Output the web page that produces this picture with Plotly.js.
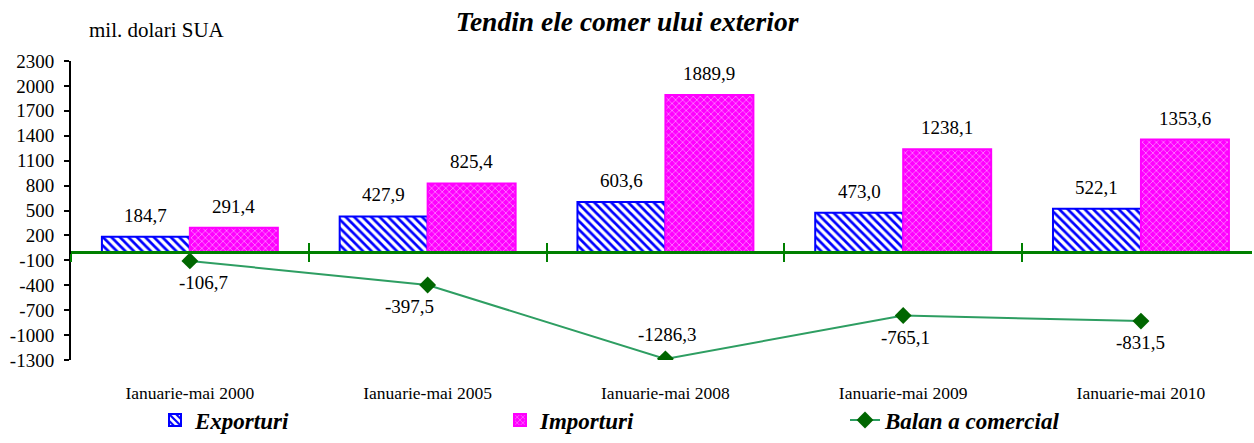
<!DOCTYPE html>
<html><head><meta charset="utf-8">
<script src="https://cdn.plot.ly/plotly-3.0.1.min.js"></script>
<style>html,body{margin:0;padding:0;background:#fff}</style>
</head><body><div id="chart" style="width:1254px;height:443px"></div>
<script>
const categories = ["Ianuarie-mai 2000", "Ianuarie-mai 2005", "Ianuarie-mai 2008", "Ianuarie-mai 2009", "Ianuarie-mai 2010"];
const exporturi = [184.7, 427.9, 603.6, 473.0, 522.1];
const importuri = [291.4, 825.4, 1889.9, 1238.1, 1353.6];
const balanta = [-106.7, -397.5, -1286.3, -765.1, -831.5];
const yTickValues = [-1300, -1000, -700, -400, -100, 200, 500, 800, 1100, 1400, 1700, 2000, 2300];
const seriesNames = ["Exporturi", "Importuri", "Balan a comercial"];
const chartTitle = "Tendin ele comer ului exterior";
const unitLabel = "mil. dolari SUA";

// style-only settings for the balance labels
const balLabelAbove = [false, false, true, false, false];
const balLabelXShift = [14, -18, 2, 2, 0];

const FONT = "Liberation Serif, Times New Roman, serif";
const fmt = v => v.toFixed(1).replace('.', ',');
const yRange = [-1300, 2300];
const xRange = [-0.5, 4.467];
const zeroPos = (0 - yRange[0]) / (yRange[1] - yRange[0]);
const boundaries = categories.map((c, i) => i - 0.5);

const traces = [
  {type: 'bar', name: seriesNames[0], x: categories, y: exporturi,
   marker: {color: 'white', line: {color: '#0000FF', width: 2},
            pattern: {shape: '\\', fgcolor: '#0000FF', bgcolor: 'white', size: 6, solidity: 0.45}},
   hoverinfo: 'skip'},
  {type: 'bar', name: seriesNames[1], x: categories, y: importuri,
   marker: {color: '#FF00FF', line: {color: '#FF00FF', width: 2},
            pattern: {shape: 'x', fgcolor: '#FFC8FF', bgcolor: '#FF00FF', size: 5, solidity: 0.2}},
   hoverinfo: 'skip'},
  {type: 'scatter', mode: 'lines+markers', name: seriesNames[2], x: categories, y: balanta,
   line: {color: '#2E9E62', width: 2},
   marker: {symbol: 'diamond', color: '#006600', size: 13},
   hoverinfo: 'skip'},
  // invisible helpers so the zero-line axes (x2, x3) are rendered
  {type: 'scatter', mode: 'markers', x: boundaries, y: boundaries.map(() => 0), xaxis: 'x2', yaxis: 'y',
   marker: {opacity: 0}, showlegend: false, hoverinfo: 'skip'},
  {type: 'scatter', mode: 'markers', x: boundaries, y: boundaries.map(() => 0), xaxis: 'x3', yaxis: 'y',
   marker: {opacity: 0}, showlegend: false, hoverinfo: 'skip'}
];

const annotations = [];
const labelFont = {family: FONT, size: 19, color: '#000'};
categories.forEach((c, i) => {
  annotations.push({x: c, y: exporturi[i], xref: 'x', yref: 'y', text: fmt(exporturi[i]),
    showarrow: false, xshift: -44, yanchor: 'bottom', yshift: 9, font: labelFont});
  annotations.push({x: c, y: importuri[i], xref: 'x', yref: 'y', text: fmt(importuri[i]),
    showarrow: false, xshift: 44, yanchor: 'bottom', yshift: 9, font: labelFont});
  annotations.push({x: c, y: balanta[i], xref: 'x', yref: 'y', text: fmt(balanta[i]),
    showarrow: false, xshift: balLabelXShift[i],
    yanchor: balLabelAbove[i] ? 'bottom' : 'top', yshift: balLabelAbove[i] ? 12 : -9, font: labelFont});
});
annotations.push({xref: 'paper', yref: 'paper',
  x: (87 - 71) / 1181, xanchor: 'left', y: 1 + (61 - 30) / 299, yanchor: 'middle',
  text: unitLabel, showarrow: false, font: {family: FONT, size: 21, color: '#000'}});

const zeroAxisBase = {overlaying: 'x', anchor: 'free', position: zeroPos, type: 'linear',
  range: xRange, showline: true, linecolor: '#008000', linewidth: 2.5,
  tickmode: 'array', tickvals: boundaries, ticklen: 8, tickwidth: 2, tickcolor: '#008000',
  showticklabels: false, showgrid: false, zeroline: false, fixedrange: true};

const layout = {
  width: 1254, height: 443,
  margin: {l: 71, r: 2, t: 61, b: 83, autoexpand: false},
  paper_bgcolor: 'white', plot_bgcolor: 'white',
  title: {text: '<b><i>' + chartTitle + '</i></b>', x: 0.5, xref: 'container', y: 1 - 21 / 443, yanchor: 'middle',
          font: {family: FONT, size: 27.5, color: '#000'}},
  barmode: 'group', bargap: 0.26, bargroupgap: 0,
  showlegend: true,
  legend: {orientation: 'h', x: (155 - 71) / 1181, xanchor: 'left', y: -60 / 299, yanchor: 'middle',
           entrywidth: 300, entrywidthmode: 'pixels', itemwidth: 30, traceorder: 'normal',
           bgcolor: 'rgba(0,0,0,0)',
           font: {family: FONT, size: 23, color: '#000', weight: 'bold', style: 'italic'}},
  xaxis: {type: 'category', range: xRange, showline: false, ticks: '', showgrid: false, zeroline: false,
          tickfont: {family: FONT, size: 17.5, color: '#000'}, ticklabelstandoff: 20},
  xaxis2: Object.assign({}, zeroAxisBase, {ticks: 'outside'}),
  xaxis3: Object.assign({}, zeroAxisBase, {ticks: 'inside'}),
  yaxis: {range: yRange, tickmode: 'array', tickvals: yTickValues, ticktext: yTickValues.map(String),
          showline: true, linecolor: '#000', linewidth: 2, ticklabelstandoff: 6,
          ticks: 'outside', ticklen: 5, tickwidth: 2, tickcolor: '#000', showgrid: false, zeroline: false,
          tickfont: {family: FONT, size: 19, color: '#000'}},
  annotations: annotations
};

Plotly.newPlot('chart', traces, layout, {staticPlot: true, displayModeBar: false});
</script>
</body></html>
